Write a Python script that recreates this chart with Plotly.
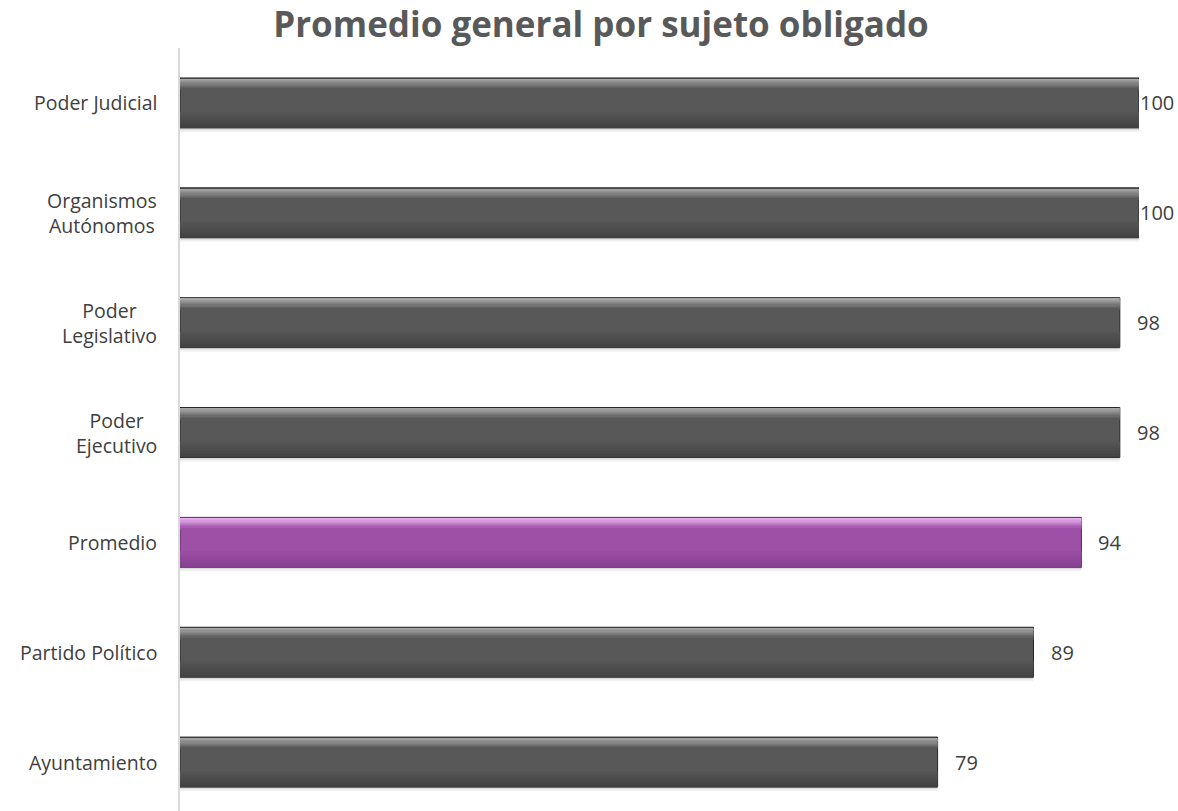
import plotly.graph_objects as go

categories = ["Poder Judicial", "Organismos<br>Autónomos", "Poder<br>Legislativo",
              "Poder<br>Ejecutivo", "Promedio", "Partido Político", "Ayuntamiento"]
values = [100, 100, 98, 98, 94, 89, 79]
highlight_category = "Promedio"
title_text = "Promedio general por sujeto obligado"

W, H = 1178, 811
px_per_cat = 110.0
bar_w = 50 / px_per_cat
base_off = -bar_w / 2

is_hl = [c == highlight_category for c in categories]


def mix(c1, c2, t):
    a = [int(c1[i:i + 2], 16) for i in (1, 3, 5)]
    b = [int(c2[i:i + 2], 16) for i in (1, 3, 5)]
    return "#%02x%02x%02x" % tuple(round(a[k] + (b[k] - a[k]) * t) for k in range(3))


GRAY = dict(top="#a6a6a6", body="#585858", bottom="#414141", edge="#262626")
PURP = dict(top="#eab0f2", body="#9c50a6", bottom="#84408e", edge="#5e2a66")
pal = [PURP if h else GRAY for h in is_hl]

fig = go.Figure()


def layer(off_px, h_px, colors, line_col=None, lw=0):
    fig.add_trace(go.Bar(
        x=values, y=categories, orientation="h",
        width=h_px / px_per_cat, offset=base_off + off_px / px_per_cat,
        marker=dict(color=colors, line=dict(color=line_col or colors, width=lw)),
        hoverinfo="skip", showlegend=False))


# soft shadow below bars
layer(50, 2, ["rgba(0,0,0,0.14)"] * len(values))
layer(52, 2, ["rgba(0,0,0,0.06)"] * len(values))
# main bar
layer(0, 50, [p["body"] for p in pal], [p["edge"] for p in pal], 1)
# top bevel gradient
steps = 9
for i in range(steps):
    t = i / (steps - 1)
    layer(1.2 + i * 1.2, 1.3, [mix(p["top"], p["body"], t) for p in pal])
# bottom gradient to darker
steps_b = 8
for i in range(steps_b):
    t = (i + 1) / steps_b
    layer(34 + i * 2, 2.1, [mix(p["body"], p["bottom"], t) for p in pal])

fig.update_layout(barmode="overlay")

annotations = []
for c, v in zip(categories, values):
    annotations.append(dict(
        x=v, y=c, xref="x", yref="y", text=str(v), showarrow=False,
        xanchor="left", yanchor="middle", xshift=15 if v < 100 else -1,
        font=dict(size=20, color="#404040", family="Open Sans")))
    annotations.append(dict(
        x=0, y=c, xref="paper", yref="y", text=c, showarrow=False,
        xanchor="right", yanchor="middle", align="center", xshift=-21,
        font=dict(size=19.5, color="#404040", family="Open Sans")))

n = len(categories)
fig.update_layout(
    width=W, height=H,
    margin=dict(l=180, r=39, t=48, b=0),
    paper_bgcolor="white", plot_bgcolor="white",
    title=dict(text="<b>" + title_text + "</b>", x=601 / W, xanchor="center",
               y=1 - 25 / H, yanchor="middle",
               font=dict(size=35, color="#595959", family="Open Sans")),
    xaxis=dict(range=[0, 100], visible=False),
    yaxis=dict(categoryorder="array", categoryarray=categories,
               range=[n - 1 + 49 / px_per_cat, -0.5],
               showticklabels=False, showgrid=False, zeroline=False,
               showline=True, linecolor="#d9d9d9", linewidth=2),
    annotations=annotations,
)

fig.write_html("out.html")
